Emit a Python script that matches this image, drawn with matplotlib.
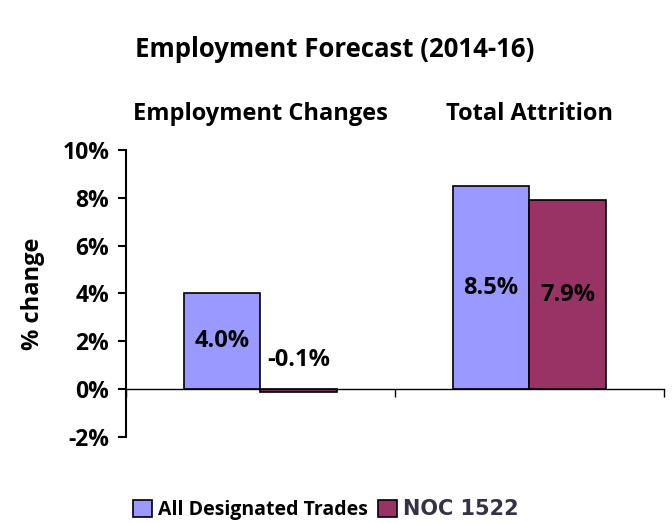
import numpy as np
from matplotlib import pyplot as plt
from matplotlib.patches import Patch

categories = ['Employment Changes', 'Total Attrition']
series_names = ['All Designated Trades', 'NOC 1522']
all_trades = [4.0, 8.5]
noc_1522 = [-0.1, 7.9]
yticks = [-2, 0, 2, 4, 6, 8, 10]

plt.rcParams['font.family'] = ['Open Sans', 'DejaVu Sans']
plt.rcParams['font.weight'] = 'bold'

colors = ['#9999FF', '#993366']
fig = plt.figure(figsize=(6.72, 5.23), dpi=100)
ax = fig.add_axes([0.1875, 0.1645, 0.8005, 0.5487])

x = np.arange(len(categories)) + 0.5
w = 0.285
for i, (vals, c) in enumerate(zip([all_trades, noc_1522], colors)):
    pos = x + (i - 0.5) * w
    ax.bar(pos, vals, w, color=c, edgecolor='black', linewidth=1.2, zorder=2)
    for p, v in zip(pos, vals):
        ty = v / 2 if v > 1 else 1.2
        ax.text(p, ty, '%.1f%%' % v, ha='center', va='center',
                fontsize=17, fontweight='bold', zorder=3)

ax.set_xlim(0, 2)
ax.set_ylim(-2, 10)
ax.set_yticks(yticks)
ax.set_yticklabels(['%d%%' % t for t in yticks], fontsize=16.5, fontweight='bold')
ax.set_xticks([0, 1, 2])
ax.set_xticklabels([])
ax.spines['top'].set_visible(False)
ax.spines['right'].set_visible(False)
ax.spines['bottom'].set_position(('data', 0))
ax.spines['left'].set_linewidth(1.5)
ax.spines['bottom'].set_linewidth(1.0)
ax.tick_params(axis='y', direction='out', length=6, width=1.5, pad=6)
ax.tick_params(axis='x', direction='out', length=6, width=1.0)
ax.set_ylabel('% change', fontsize=17, fontweight='bold')
ax.yaxis.set_label_coords(-0.15, 0.5)

for xc, cat in zip(x, categories):
    ax.text(xc, 11.5, cat, ha='center', va='center', fontsize=17, fontweight='bold')

fig.text(0.498, 0.906, 'Employment Forecast (2014-16)', ha='center', va='center',
         fontsize=18.5, fontweight='bold')

handles = [Patch(facecolor=c, edgecolor='black', linewidth=1.2) for c in colors]
leg = fig.legend(handles, series_names, loc='center', ncol=2, frameon=False,
                 bbox_to_anchor=(0.485, 0.025), fontsize=14,
                 handlelength=1.0, handleheight=1.0, handletextpad=0.3,
                 columnspacing=0.5)
texts = leg.get_texts()
texts[0].set_fontweight('bold')
texts[1].set_family('DejaVu Sans')
texts[1].set_fontsize(15)
texts[1].set_color('#333344')
texts[1].set_fontweight('bold')

fig.savefig('out.png', dpi=100)
